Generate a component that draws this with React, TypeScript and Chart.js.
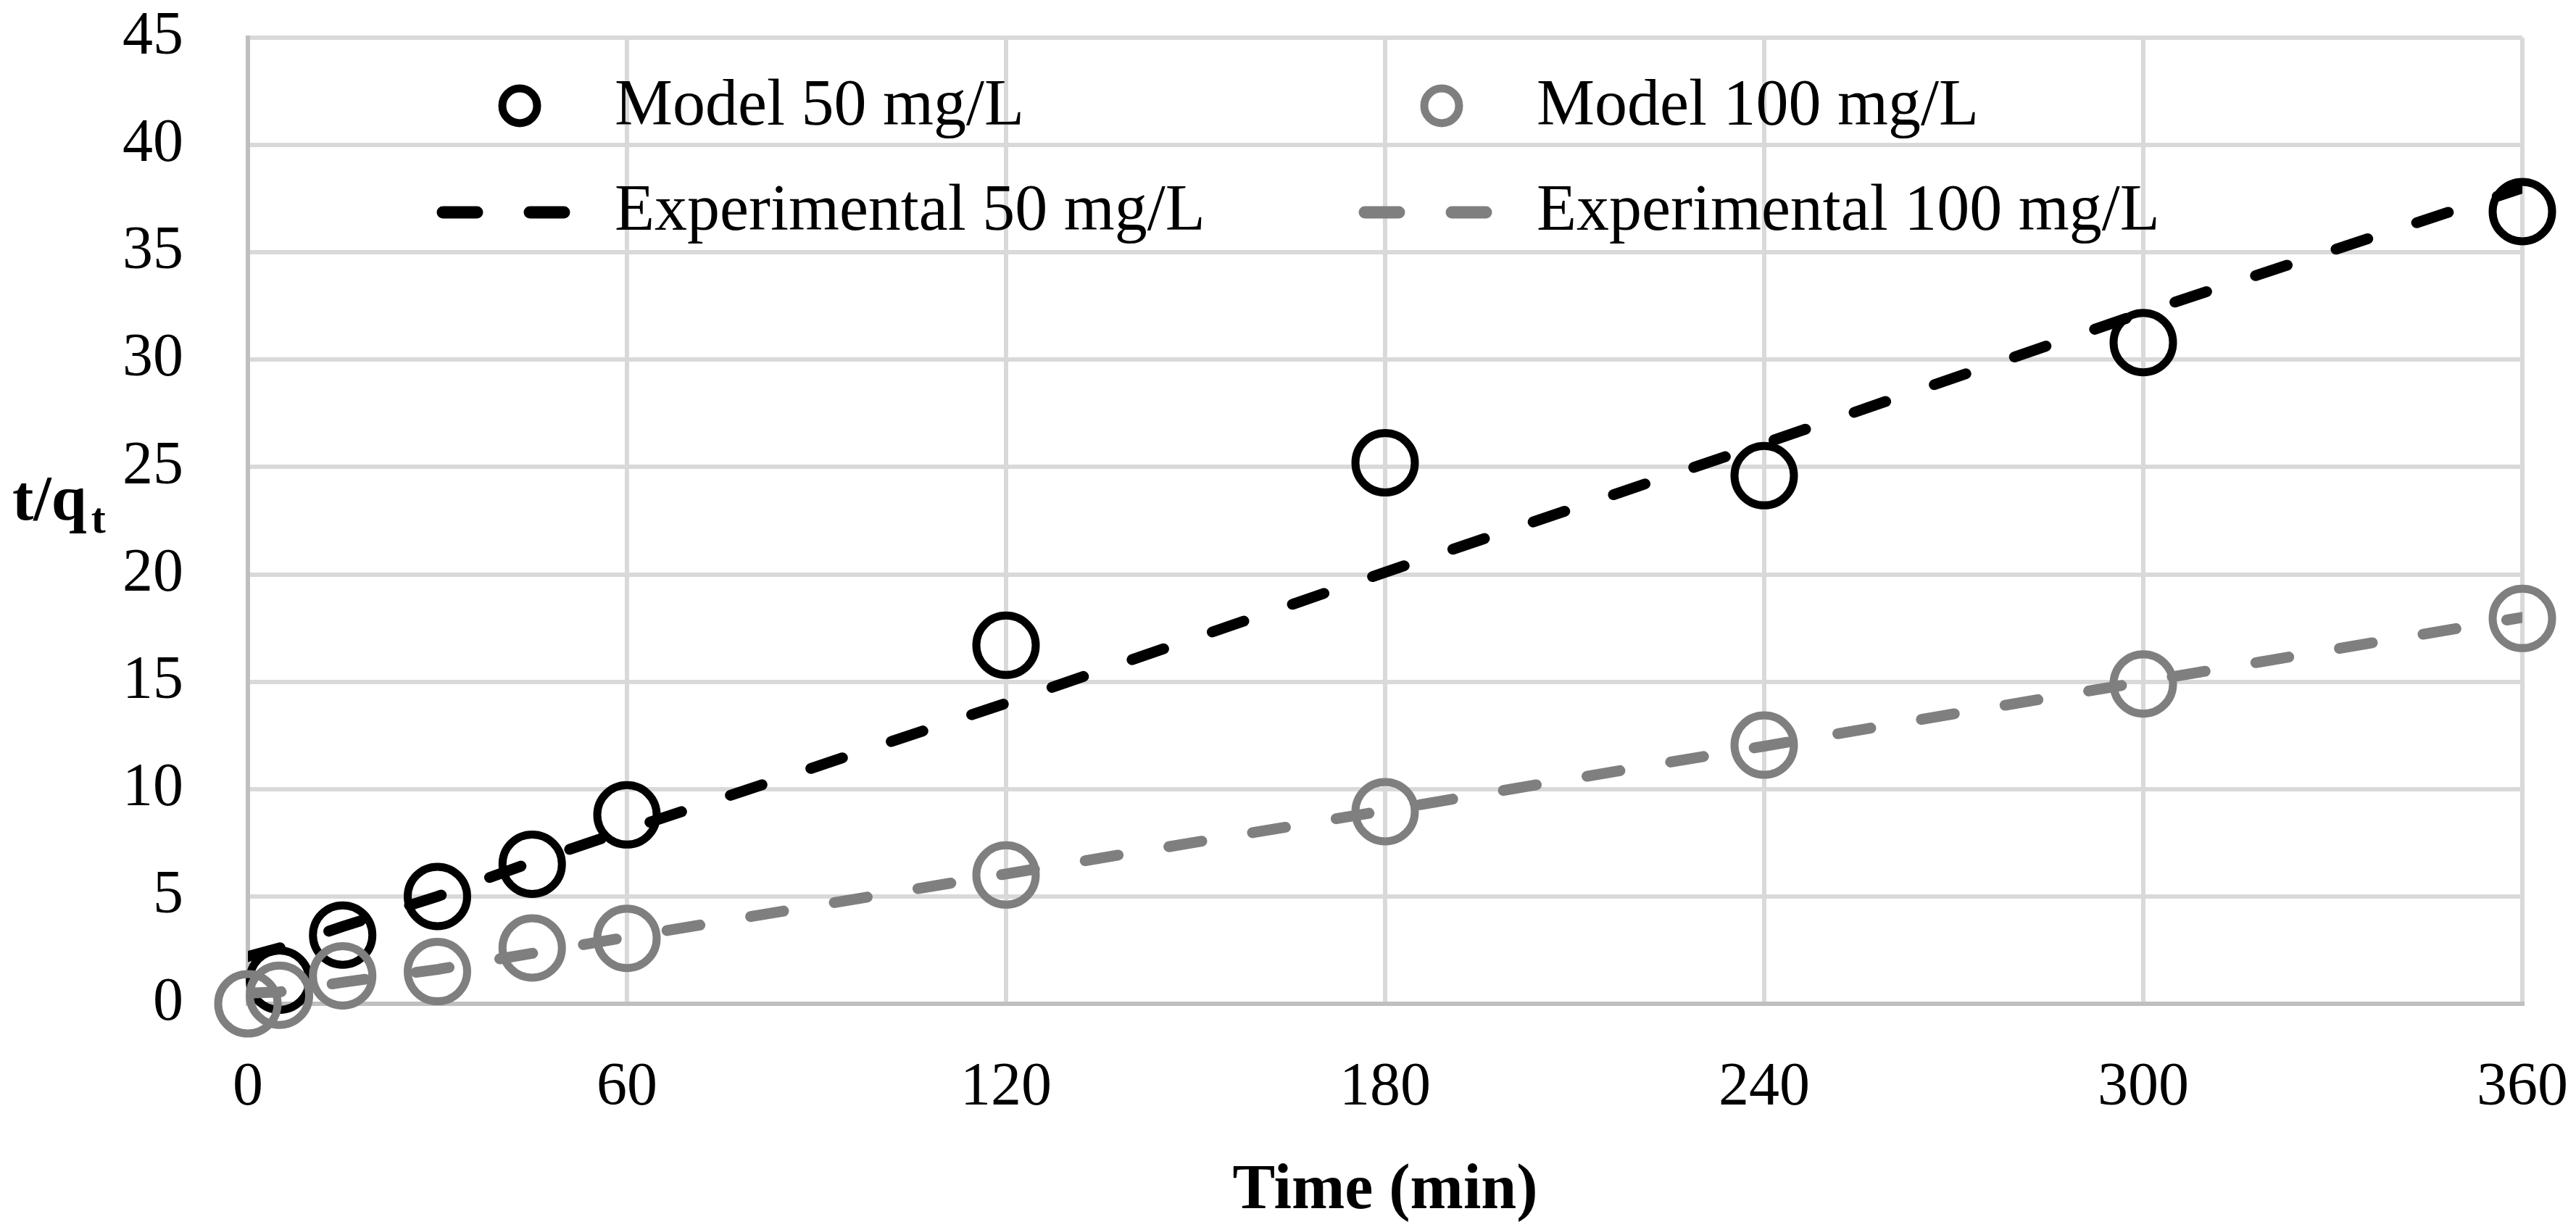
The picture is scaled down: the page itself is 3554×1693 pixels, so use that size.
import { useEffect, useRef } from 'react'
import { Chart, registerables } from 'chart.js'

Chart.register(...registerables)

// sampling times (min)
const times = [0, 5, 15, 30, 45, 60, 120, 180, 240, 300, 360]
// t/qt values
const model50 = [null, 1.1, 3.2, 5.0, 6.5, 8.8, 16.7, 25.2, 24.6, 30.8, 36.9]
const model100 = [0, 0.4, 1.3, 1.5, 2.6, 3.05, 6.0, 8.95, 12.05, 14.9, 17.95]
const experimental50 = [2.2, 2.6, 3.6, 5.0, 6.6, 8.1, 14.0, 20.1, 26.1, 32.2, 38.0]
const experimental100 = [0.5, 0.55, 1.0, 1.6, 2.35, 3.1, 6.05, 9.0, 12.0, 15.0, 18.0]

const xTicks = [0, 60, 120, 180, 240, 300, 360]
const yTicks = [0, 5, 10, 15, 20, 25, 30, 35, 40, 45]

const seriesLabels = ['Model 50 mg/L', 'Model 100 mg/L', 'Experimental 50 mg/L', 'Experimental 100 mg/L']

const BLACK = '#000000'
const GREY = '#7f7f7f'
const FONT = "'Liberation Serif', 'Times New Roman', serif"

const toPoints = (ys: (number | null)[]) =>
  times
    .map((t, i) => ({ x: t, y: ys[i] }))
    .filter((p) => p.y !== null) as { x: number; y: number }[]

// keep tick labels from pushing the plot area in
const noScalePadding = (scale: any) => {
  scale.paddingTop = 0
  scale.paddingBottom = 0
  scale.paddingLeft = 0
  scale.paddingRight = 0
}

// legend + axis titles drawn by hand (two-column legend inside the plot, subscript in y title)
const annotations = {
  id: 'annotations',
  afterDraw(chart: Chart) {
    const { ctx, chartArea } = chart
    const left = chartArea.left
    const colOffset = 1272
    ctx.save()

    // circle markers (row 1)
    ;[BLACK, GREY].forEach((c, i) => {
      ctx.beginPath()
      ctx.lineWidth = 11
      ctx.strokeStyle = c
      ctx.arc(left + 375 + i * colOffset, 146, 24, 0, Math.PI * 2)
      ctx.stroke()
    })

    // dash markers (row 2)
    ;[BLACK, GREY].forEach((c, i) => {
      const x0 = left + 261 + i * colOffset
      ctx.strokeStyle = c
      ctx.lineWidth = 17
      ctx.lineCap = 'round'
      ;[0, 120].forEach((off) => {
        ctx.beginPath()
        ctx.moveTo(x0 + off + 8, 293)
        ctx.lineTo(x0 + off + 55, 293)
        ctx.stroke()
      })
    })

    ctx.fillStyle = '#000'
    ctx.font = `90px ${FONT}`
    ctx.textAlign = 'left'
    ctx.textBaseline = 'alphabetic'
    ctx.fillText(seriesLabels[0], left + 506, 172)
    ctx.fillText(seriesLabels[1], left + 506 + colOffset, 172)
    ctx.fillText(seriesLabels[2], left + 506, 317)
    ctx.fillText(seriesLabels[3], left + 506 + colOffset, 317)

    // x axis title
    ctx.font = `bold 88px ${FONT}`
    ctx.textAlign = 'center'
    ctx.fillText('Time (min)', (chartArea.left + chartArea.right) / 2, 1667)

    // y axis title t/q with subscript t
    ctx.textAlign = 'left'
    ctx.font = `bold 88px ${FONT}`
    ctx.fillText('t/q', 17, 717)
    const w = ctx.measureText('t/q').width
    ctx.font = `bold 60px ${FONT}`
    ctx.fillText('t', 17 + w + 6, 735)

    ctx.restore()
  },
}

export default function App() {
  const chartRef = useRef<HTMLCanvasElement>(null)
  const chartInstance = useRef<Chart | null>(null)

  useEffect(() => {
    document.body.style.margin = '0'
    if (!chartRef.current) return

    if (chartInstance.current) {
      chartInstance.current.destroy()
    }

    const ctx = chartRef.current.getContext('2d')
    if (!ctx) return

    chartInstance.current = new Chart(ctx, {
      type: 'scatter',
      data: {
        datasets: [
          {
            label: seriesLabels[3],
            data: toPoints(experimental100),
            showLine: true,
            borderColor: GREY,
            borderWidth: 15,
            borderDash: [46, 71],
            borderCapStyle: 'round',
            pointRadius: 0,
            tension: 0,
            clip: 0,
          },
          {
            label: seriesLabels[1],
            data: toPoints(model100),
            pointStyle: 'circle',
            pointRadius: 41,
            pointBorderWidth: 11,
            pointBorderColor: GREY,
            pointBackgroundColor: 'rgba(0,0,0,0)',
            clip: false,
          },
          {
            label: seriesLabels[2],
            data: toPoints(experimental50),
            showLine: true,
            borderColor: BLACK,
            borderWidth: 15,
            borderDash: [46, 71],
            borderCapStyle: 'round',
            pointRadius: 0,
            tension: 0,
            clip: 0,
          },
          {
            label: seriesLabels[0],
            data: toPoints(model50),
            pointStyle: 'circle',
            pointRadius: 41,
            pointBorderWidth: 11,
            pointBorderColor: BLACK,
            pointBackgroundColor: 'rgba(0,0,0,0)',
            clip: false,
          },
        ],
      },
      options: {
        responsive: false,
        devicePixelRatio: 1,
        animation: false,
        layout: { padding: { top: 49, right: 74, left: 0, bottom: 0 } },
        plugins: {
          legend: { display: false },
          tooltip: { enabled: false },
        },
        scales: {
          x: {
            type: 'linear',
            min: 0,
            max: 360,
            afterBuildTicks: (scale: any) => {
              scale.ticks = xTicks.map((v) => ({ value: v }))
            },
            afterFit: (scale: any) => {
              scale.height = 308
              noScalePadding(scale)
            },
            grid: { color: '#d9d9d9', lineWidth: 6, drawTicks: false },
            border: { color: '#bfbfbf', width: 6 },
            ticks: {
              padding: 67,
              color: '#000',
              font: { family: FONT, size: 84 },
              maxRotation: 0,
            },
          },
          y: {
            type: 'linear',
            min: 0,
            max: 45,
            afterBuildTicks: (scale: any) => {
              scale.ticks = yTicks.map((v) => ({ value: v }))
            },
            afterFit: (scale: any) => {
              scale.width = 342
              noScalePadding(scale)
            },
            grid: { color: '#d9d9d9', lineWidth: 6, drawTicks: false },
            border: { color: '#bfbfbf', width: 6 },
            ticks: {
              padding: 89,
              color: '#000',
              font: { family: FONT, size: 84 },
            },
          },
        },
      },
      plugins: [annotations],
    })

    return () => {
      if (chartInstance.current) {
        chartInstance.current.destroy()
        chartInstance.current = null
      }
    }
  }, [])

  return (
    <div style={{ width: 3554, height: 1693, background: '#fff' }}>
      <canvas ref={chartRef} width={3554} height={1693} />
    </div>
  )
}
